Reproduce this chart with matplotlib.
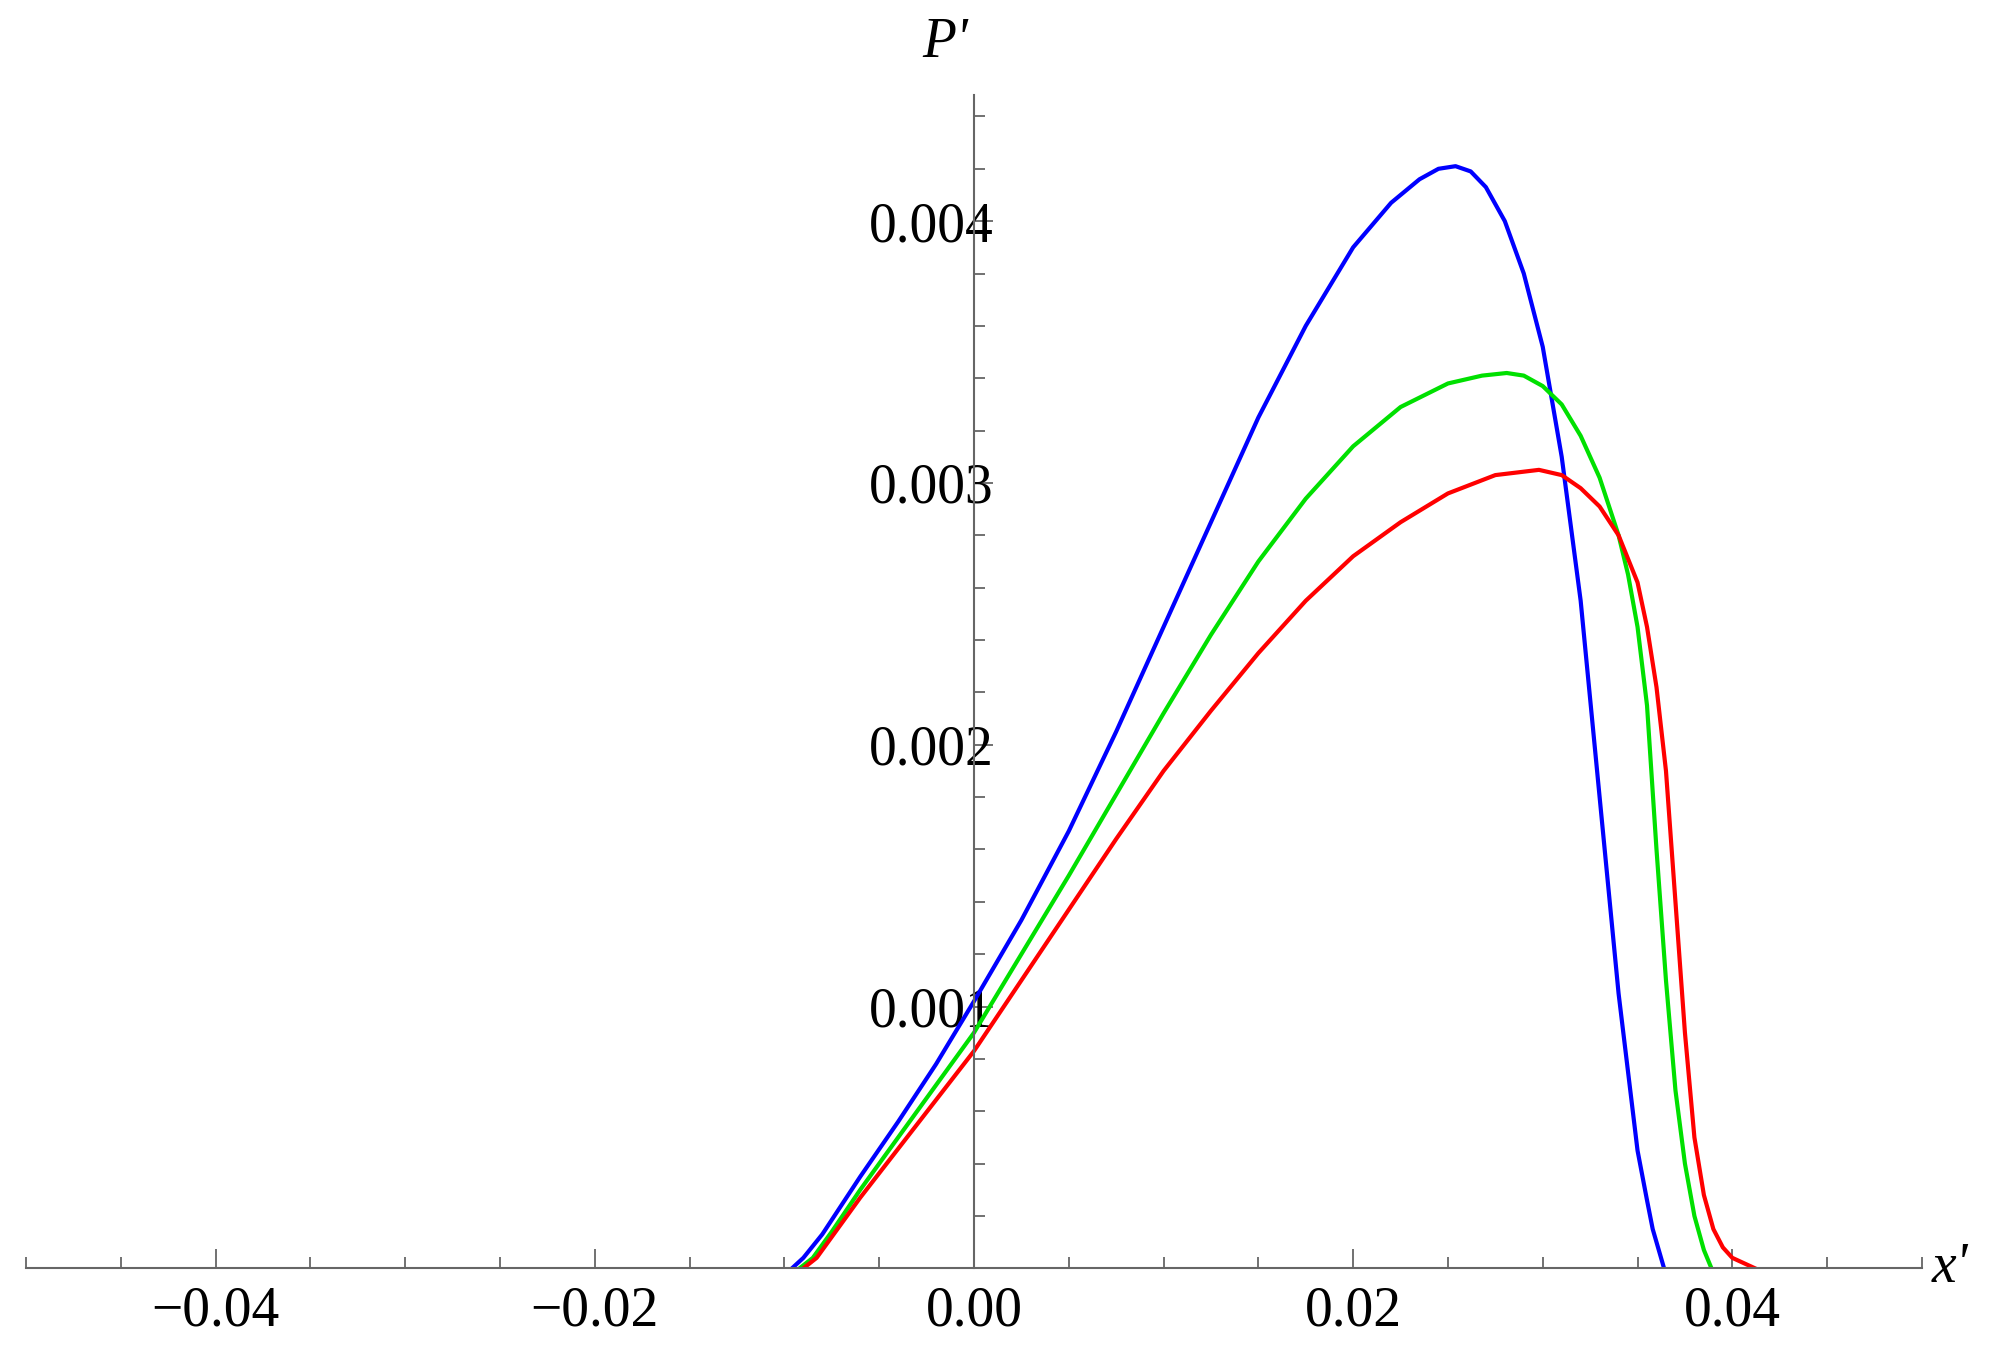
import matplotlib
matplotlib.use('Agg')
from matplotlib import pyplot as plt
from matplotlib.ticker import MultipleLocator

# curves
blue_x = [-0.0096, -0.009, -0.008, -0.007, -0.006, -0.004, -0.002, 0.0, 0.0025, 0.005, 0.0075, 0.010, 0.0125,
          0.015, 0.0175, 0.020, 0.022, 0.0235, 0.0245, 0.0254, 0.0262, 0.027, 0.028, 0.029, 0.030, 0.031,
          0.032, 0.033, 0.034, 0.035, 0.0355, 0.0358, 0.0362, 0.0364]
blue_y = [0.0, 0.00004, 0.00013, 0.00024, 0.00035, 0.00056, 0.00078, 0.00102, 0.00133, 0.00167, 0.00205, 0.00245,
          0.00285, 0.00325, 0.00360, 0.00390, 0.00407, 0.00416, 0.00420, 0.00421, 0.00419, 0.00413, 0.00400,
          0.00380, 0.00352, 0.00310, 0.00255, 0.00180, 0.00105, 0.00045, 0.00026, 0.00015, 0.00005, 0.0]

green_x = [-0.0092, -0.0085, -0.0075, -0.006, -0.003, 0.0, 0.0025, 0.005, 0.0075, 0.010, 0.0125, 0.015,
           0.0175, 0.020, 0.0225, 0.025, 0.0268, 0.0281, 0.029, 0.030, 0.031, 0.032, 0.033, 0.034, 0.0345,
           0.035, 0.0355, 0.036, 0.0365, 0.037, 0.0375, 0.038, 0.0385, 0.0389]
green_y = [0.0, 0.00004, 0.00014, 0.00030, 0.00060, 0.00090, 0.00120, 0.00150, 0.00181, 0.00212, 0.00242, 0.00270,
           0.00294, 0.00314, 0.00329, 0.00338, 0.00341, 0.00342, 0.00341, 0.00337, 0.00330, 0.00318, 0.00302,
           0.00280, 0.00265, 0.00245, 0.00215, 0.00160, 0.00110, 0.00068, 0.00040, 0.00020, 0.00007, 0.0]

red_x = [-0.009, -0.0083, -0.0073, -0.006, -0.003, 0.0, 0.0025, 0.005, 0.0075, 0.010, 0.0125, 0.015,
         0.0175, 0.020, 0.0225, 0.025, 0.0275, 0.0298, 0.031, 0.032, 0.033, 0.034, 0.035, 0.0355, 0.036,
         0.0365, 0.037, 0.0375, 0.038, 0.0385, 0.039, 0.0395, 0.040, 0.0412]
red_y = [0.0, 0.00004, 0.00014, 0.00027, 0.00055, 0.00083, 0.00110, 0.00137, 0.00164, 0.00190, 0.00213, 0.00235,
         0.00255, 0.00272, 0.00285, 0.00296, 0.00303, 0.00305, 0.00303, 0.00298, 0.00291, 0.00280, 0.00262,
         0.00245, 0.00222, 0.00190, 0.00140, 0.00090, 0.00050, 0.00028, 0.00015, 0.00008, 0.00004, 0.0]

fig = plt.figure(figsize=(20.02, 13.45), dpi=100)
ax = fig.add_axes([0.013, 0.057, 0.947, 0.872])
ax.plot(blue_x, blue_y, color='#0000ff', lw=3)
ax.plot(green_x, green_y, color='#00e000', lw=3)
ax.plot(red_x, red_y, color='#ff0000', lw=3)

ax.set_xlim(-0.05, 0.05)
ax.set_ylim(0, 0.00448)
ax.spines['left'].set_position(('data', 0))
ax.spines['bottom'].set_position(('data', 0))
ax.spines['right'].set_visible(False)
ax.spines['top'].set_visible(False)
for s in ['left', 'bottom']:
    ax.spines[s].set_color('#666666')
    ax.spines[s].set_linewidth(1.5)

ax.xaxis.set_minor_locator(MultipleLocator(0.005))
ax.yaxis.set_minor_locator(MultipleLocator(0.0002))
ax.set_xticks([-0.04, -0.02, 0.0, 0.02, 0.04])
ax.set_xticklabels(['\u22120.04', '\u22120.02', '0.00', '0.02', '0.04'])
ax.set_yticks([0.001, 0.002, 0.003, 0.004])
ax.set_yticklabels(['0.001', '0.002', '0.003', '0.004'])
ax.tick_params(which='both', direction='in', color='#666666', labelsize=40, width=1.3)
ax.tick_params(which='major', length=14)
ax.tick_params(which='minor', length=8)
for lab in ax.get_xticklabels() + ax.get_yticklabels():
    lab.set_family('Liberation Serif')
ax.tick_params(axis='x', pad=12)
ax.tick_params(axis='y', pad=-14)

ax.text(-0.0003, 0.00458, "P'", fontsize=40, style='italic', family='Liberation Serif', ha='right', va='bottom')
ax.text(0.0505, 0.0, "x'", fontsize=40, style='italic', family='Liberation Serif', ha='left', va='center')

plt.savefig('out.png', dpi=100)
